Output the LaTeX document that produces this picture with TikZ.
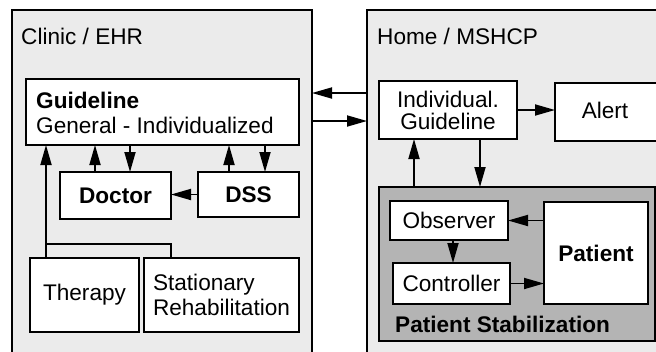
\documentclass[tikz,border=0pt]{standalone}
\usepackage{fontspec}
\setmainfont{Liberation Sans}
\usetikzlibrary{arrows.meta}
\definecolor{panelgray}{HTML}{EBEBEB}
\definecolor{psgray}{HTML}{B4B4B4}
\begin{document}
\begin{tikzpicture}[x=1pt,y=-1pt,
  every node/.style={font=\fontsize{22.6}{24}\selectfont},
  panel/.style={draw, fill=panelgray, line width=1.8pt, inner sep=0pt, outer sep=0pt, anchor=north west},
  box/.style={draw, fill=white, line width=1.8pt, inner sep=0pt, outer sep=0pt, anchor=north west},
  txt/.style={inner sep=0pt, anchor=base west},
  conn/.style={line width=1.8pt},
  arr/.style={line width=1.8pt, -{Triangle[length=20pt,width=11pt]}}]
\useasboundingbox (0,0) rectangle (656,351);
% panels
\node[panel, minimum width=300pt, minimum height=360pt] (lp) at (12,10) {};
\node[panel, minimum width=320pt, minimum height=360pt] (rp) at (367,10) {};
\node[txt] (lpl) at (21,44) {Clinic / EHR};
\node[txt] (rpl) at (377,44) {Home / MSHCP};
% left panel
\node[box, minimum width=273pt, minimum height=66pt] (gl) at (26,79) {};
\node[txt] (glt1) at (36,108) {\bfseries Guideline};
\node[txt] (glt2) at (36,133) {General - Individualized};
\node[box, minimum width=111pt, minimum height=47pt] (doc) at (60,172) {\bfseries Doctor};
\node[box, minimum width=101pt, minimum height=45pt] (dss) at (198,172) {\bfseries DSS};
\node[box, minimum width=109pt, minimum height=74pt] (ther) at (30,258) {Therapy};
\node[box, minimum width=155pt, minimum height=74pt, align=left,
      font=\fontsize{22.6}{25}\selectfont] (stat) at (144,258) {Stationary\\Rehabilitation};
\draw[arr] ([xshift=35pt]doc.north west) -- ([xshift=35pt]doc.north west |- gl.south);
\draw[arr] ([xshift=70pt]doc.north west |- gl.south) -- ([xshift=70pt]doc.north west);
\draw[arr] ([xshift=31pt]dss.north west) -- ([xshift=31pt]dss.north west |- gl.south);
\draw[arr] ([xshift=67pt]dss.north west |- gl.south) -- ([xshift=67pt]dss.north west);
\draw[arr] (dss.west) -- (dss.west -| doc.east);
\draw[arr] ([xshift=16pt]ther.north west) -- ([xshift=16pt]ther.north west |- gl.south);
\draw[conn] ([xshift=27pt]stat.north west) |- ([xshift=16pt,yshift=14pt]ther.north west);
% between panels
\draw[arr] ([yshift=-83pt]rp.north west) -- ([yshift=-83pt]rp.north west -| lp.east);
\draw[arr] ([yshift=-111pt]rp.north west -| lp.east) -- ([yshift=-111pt]rp.north west);
% right panel
\node[box, minimum width=138pt, minimum height=58pt, align=center,
      font=\fontsize{22.6}{22}\selectfont] (ig) at (379,81) {Individual.\\Guideline};
\node[box, minimum width=115pt, minimum height=58pt] (alert) at (555,83) {};
\node (alertt) at (605,110) {Alert};
\draw[arr] (ig.east) -- (ig.east -| alert.west);
\node[box, fill=psgray, minimum width=276pt, minimum height=154pt] (ps) at (379,187) {};
\draw[arr] ([xshift=35pt]ig.south west |- ps.north) -- ([xshift=35pt]ig.south west);
\draw[arr] ([xshift=101pt]ig.south west) -- ([xshift=101pt]ig.south west |- ps.north);
\node[box, minimum width=118pt, minimum height=39pt] (obs) at (390,201) {Observer};
\node[box, minimum width=117pt, minimum height=41pt] (ctl) at (393,263) {Controller};
\node[box, minimum width=104pt, minimum height=102pt] (pat) at (544,202) {\bfseries Patient};
\draw[arr] ([xshift=63pt]obs.south west) -- ([xshift=63pt]obs.south west |- ctl.north);
\draw[arr] (obs.east -| pat.west) -- (obs.east);
\draw[arr] (ctl.east) -- (ctl.east -| pat.west);
\node[txt] (pst) at (395,332) {\bfseries Patient Stabilization};
\end{tikzpicture}
\end{document}
